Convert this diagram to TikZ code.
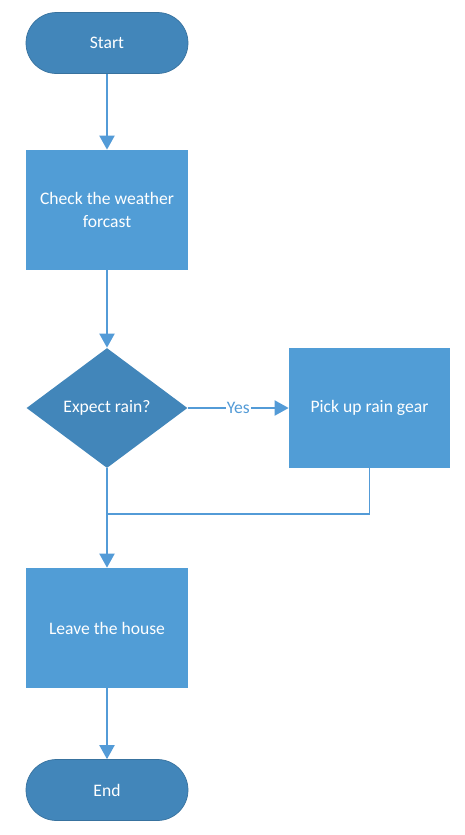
\documentclass[tikz,border=0pt]{standalone}
\usepackage{fontspec}
\setmainfont{Carlito}
\usetikzlibrary{backgrounds,shapes.geometric,arrows.meta}

\definecolor{termblue}{RGB}{66,134,186}
\definecolor{boxblue}{RGB}{81,157,214}
\definecolor{lineblue}{RGB}{83,155,215}

\tikzset{
    terminal/.style={rectangle, rounded corners=0.61cm, fill=termblue, draw=termblue!85!black, line width=0.4pt,
        minimum width=3.24cm, minimum height=1.22cm, text=white, font=\fontsize{10}{12}\selectfont},
    process/.style={rectangle, fill=boxblue, minimum width=3.22cm, minimum height=2.4cm,
        text=white, align=center, font=\fontsize{10}{13}\selectfont},
    decision/.style={diamond, fill=termblue, inner sep=0pt, minimum width=3.22cm, minimum height=2.4cm,
        text=white, font=\fontsize{10}{12}\selectfont},
    flow/.style={draw=lineblue, line width=1.1pt, -{Triangle[length=0.28cm, width=0.3cm]}},
    link/.style={draw=lineblue, line width=1.1pt}
}

\begin{document}
\begin{tikzpicture}
    % white background
    \begin{scope}[on background layer]
        \fill [white] (0,0) rectangle (9.3,-16.7);
    \end{scope}

    % draw nodes
    \node[terminal] (start) at (2.14,-0.86) {Start};
    \node[process] (check) at (2.14,-4.2) {Check the weather\\forcast};
    \node[decision] (rain) at (2.14,-8.16) {Expect rain?};
    \node[process] (gear) at (7.39,-8.16) {Pick up rain gear};
    \node[process] (leave) at (2.14,-12.56) {Leave the house};
    \node[terminal] (end) at (2.14,-15.8) {End};
    \coordinate (join) at (2.14,-10.28);

    % draw connectors
    \draw[flow] (start) -- (check);
    \draw[flow] (check) -- (rain);
    \draw[flow] (rain) -- node[fill=white, inner sep=0.5pt, text=lineblue, font=\fontsize{10}{12}\selectfont] {Yes} (gear);
    \draw[link] (gear.south) |- (join);
    \draw[flow] (rain.south) -- (leave.north);
    \draw[flow] (leave) -- (end);

\end{tikzpicture}
\end{document}
